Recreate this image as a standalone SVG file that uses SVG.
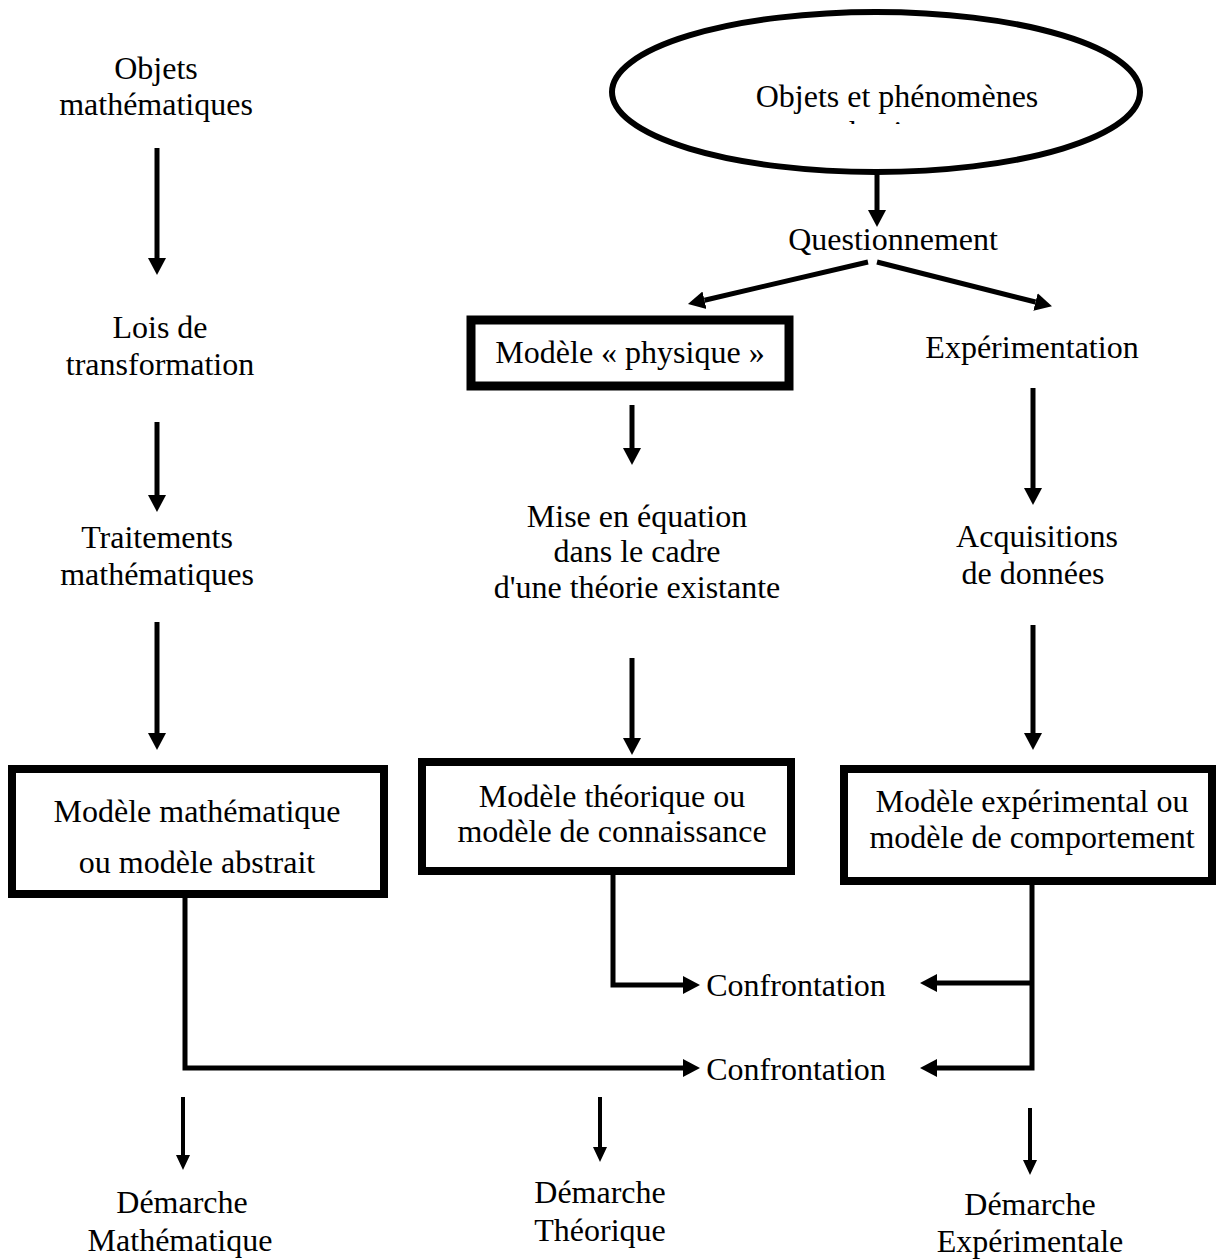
<svg xmlns="http://www.w3.org/2000/svg" width="1217" height="1260" viewBox="0 0 1217 1260">
<style>
text{font-family:"Liberation Serif","Times New Roman",serif;font-size:32px;fill:#000;text-anchor:middle}
.box{fill:#fff;stroke:#000;stroke-width:8}
.ell{fill:#fff;stroke:#000;stroke-width:6}
.c{fill:none;stroke:#000;stroke-width:5}
.t{fill:none;stroke:#000;stroke-width:4}
</style>
<defs>
<marker id="ah" markerUnits="userSpaceOnUse" viewBox="0 -10 18 20" refX="0" refY="0" markerWidth="18" markerHeight="20" orient="auto">
<path d="M0,-9 L17,0 L0,9 z" fill="#000"/>
</marker>
<marker id="ahs" markerUnits="userSpaceOnUse" viewBox="0 -8 16 16" refX="0" refY="0" markerWidth="16" markerHeight="16" orient="auto">
<path d="M0,-7 L15,0 L0,7 z" fill="#000"/>
</marker>
<clipPath id="clipPhys"><rect x="600" y="0" width="560" height="124"/></clipPath>
</defs>

<g id="n-objets-phenomenes">
<ellipse class="ell" cx="876" cy="92" rx="264" ry="80"/>
<text x="897" y="107">Objets et phénomènes</text>
<text x="897" y="143" clip-path="url(#clipPhys)">physiques</text>
</g>
<g id="n-questionnement"><text x="893" y="250">Questionnement</text></g>
<g id="n-objets-math"><text x="156" y="79">Objets</text><text x="156" y="115">mathématiques</text></g>
<g id="n-lois"><text x="160" y="338">Lois de</text><text x="160" y="375">transformation</text></g>
<g id="n-traitements"><text x="157" y="548">Traitements</text><text x="157" y="585">mathématiques</text></g>
<g id="n-modele-physique">
<rect class="box" x="471" y="320" width="318" height="66" style="stroke-width:9"/>
<text x="630" y="363">Modèle « physique »</text>
</g>
<g id="n-experimentation"><text x="1032" y="358">Expérimentation</text></g>
<g id="n-mise-en-equation">
<text x="637" y="527">Mise en équation</text>
<text x="637" y="562">dans le cadre</text>
<text x="637" y="598">d'une théorie existante</text>
</g>
<g id="n-acquisitions"><text x="1037" y="547">Acquisitions</text><text x="1033" y="584">de données</text></g>
<g id="n-modele-math">
<rect class="box" x="12" y="769" width="372" height="125"/>
<text x="197" y="822">Modèle mathématique</text>
<text x="197" y="873">ou modèle abstrait</text>
</g>
<g id="n-modele-theorique">
<rect class="box" x="422" y="762" width="369" height="109"/>
<text x="612" y="807">Modèle théorique ou</text>
<text x="612" y="842">modèle de connaissance</text>
</g>
<g id="n-modele-experimental">
<rect class="box" x="844" y="769" width="368" height="112"/>
<text x="1032" y="812">Modèle expérimental ou</text>
<text x="1032" y="848">modèle de comportement</text>
</g>
<g id="n-confrontation-1"><text x="796" y="996">Confrontation</text></g>
<g id="n-confrontation-2"><text x="796" y="1080">Confrontation</text></g>
<g id="n-demarche-math"><text x="182" y="1213">Démarche</text><text x="180" y="1251">Mathématique</text></g>
<g id="n-demarche-theo"><text x="600" y="1203">Démarche</text><text x="600" y="1241">Théorique</text></g>
<g id="n-demarche-exp"><text x="1030" y="1215">Démarche</text><text x="1030" y="1252">Expérimentale</text></g>

<g id="connectors">
<path class="c" d="M877,172 V210" marker-end="url(#ah)"/>
<path class="c" d="M868,262 L704.5,300.2" marker-end="url(#ah)"/>
<path class="c" d="M877,262 L1035.5,302" marker-end="url(#ah)"/>
<path class="c" d="M157,148 V258" marker-end="url(#ah)"/>
<path class="c" d="M157,422 V495" marker-end="url(#ah)"/>
<path class="c" d="M157,622 V733" marker-end="url(#ah)"/>
<path class="c" d="M632,405 V448" marker-end="url(#ah)"/>
<path class="c" d="M632,658 V738" marker-end="url(#ah)"/>
<path class="c" d="M1033,388 V488" marker-end="url(#ah)"/>
<path class="c" d="M1033,625 V733" marker-end="url(#ah)"/>
<path class="c" d="M613,875 V985 H683" marker-end="url(#ah)"/>
<path class="c" d="M185,898 V1068 H683" marker-end="url(#ah)"/>
<path class="c" d="M1032,885 V1068 H937" marker-end="url(#ah)"/>
<path class="c" d="M1032,983 H937" marker-end="url(#ah)"/>
<path class="t" d="M183,1097 V1155" marker-end="url(#ahs)"/>
<path class="t" d="M600,1097 V1147" marker-end="url(#ahs)"/>
<path class="t" d="M1030,1108 V1160" marker-end="url(#ahs)"/>
</g>
</svg>
